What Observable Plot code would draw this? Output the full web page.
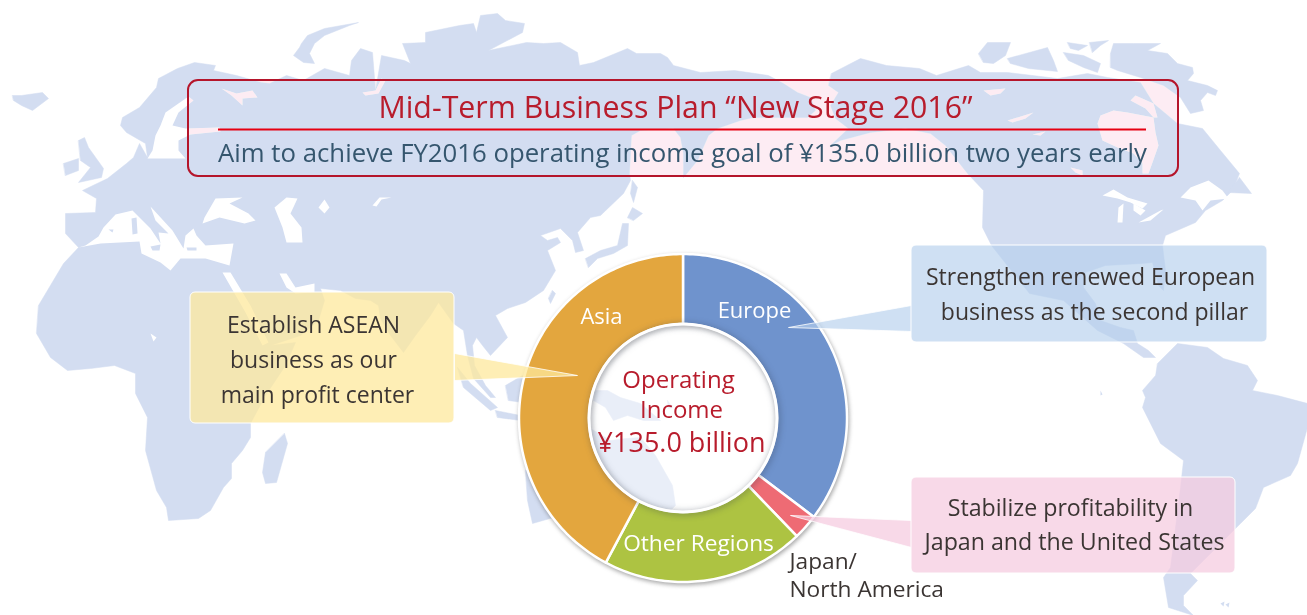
<!DOCTYPE html>
<html>
<head>
<meta charset="utf-8">
<script src="https://cdn.jsdelivr.net/npm/d3@7"></script>
<script src="https://cdn.jsdelivr.net/npm/@observablehq/plot@0.6"></script>
<style>
html,body{margin:0;padding:0;background:#fff;}
</style>
</head>
<body>
<div id="chart"></div>
<script>
// ---- chart values ----
const regions = ["Europe", "Japan/North America", "Other Regions", "Asia"];
const shares = [35.3, 2.5, 20.0, 42.2];
const regionColors = ["#6f93cd", "#ee6b74", "#adc342", "#e3a63e"];

// ---- wording ----
const titleText = "Mid-Term Business Plan “New Stage 2016”";
const subtitleText = "Aim to achieve FY2016 operating income goal of ¥135.0 billion two years early";
const ringLabels = ["Europe", "Asia"];
const ringLabelLong = ["Other Regions"];
const centerLines = ["Operating", "Income", "¥135.0 billion"];
const asiaNote = ["Establish ASEAN", "business as our", "main profit center"];
const europeNote = ["Strengthen renewed European", "business as the second pillar"];
const japanNote = ["Stabilize profitability in", "Japan and the United States"];
const japanLabel = ["Japan/", "North America"];

// ---- traced background map ----
const land = [
 [[38,305],[63,263],[78,247],[65,233],[65,213],[95,212],[96,198],[82,190],[107,178],[126,163],[133,157],[139,143],[147,157],[145,143],[126,132],[120,125],[122,117],[139,107],[156,87],[158,78],[177,68],[194,62],[215,65],[213,70],[236,75],[261,82],[269,83],[286,75],[303,80],[324,68],[349,75],[351,60],[360,48],[372,52],[375,90],[381,55],[404,60],[410,63],[402,43],[425,42],[425,32],[459,25],[473,23],[476,32],[480,15],[497,13],[505,20],[524,23],[522,32],[488,50],[526,42],[543,43],[560,42],[577,52],[579,65],[593,62],[627,48],[636,53],[660,53],[667,57],[673,65],[700,72],[734,70],[768,75],[783,83],[797,92],[810,97],[815,110],[807,117],[753,117],[740,120],[717,128],[708,135],[697,160],[683,177],[683,153],[680,137],[673,128],[640,130],[631,135],[629,173],[630,180],[623,193],[600,215],[590,217],[577,232],[583,250],[575,252],[572,240],[560,228],[540,235],[547,240],[557,237],[560,242],[547,250],[555,270],[543,290],[525,302],[507,308],[495,315],[507,337],[490,355],[482,345],[476,337],[472,345],[474,365],[485,385],[495,397],[490,397],[473,378],[467,355],[463,330],[453,323],[438,302],[430,315],[415,335],[403,352],[390,335],[380,318],[378,305],[370,300],[355,298],[340,290],[320,288],[324,300],[318,320],[300,335],[270,345],[295,342],[285,365],[265,395],[250,423],[250,437],[242,450],[231,463],[231,478],[223,487],[210,510],[198,518],[168,520],[166,507],[156,490],[145,450],[147,417],[135,393],[135,373],[114,365],[90,368],[67,370],[50,357],[36,333]],
 [[301,43],[307,35],[324,28],[358,22],[349,25],[324,35],[314,43],[309,53],[314,63],[303,62],[293,55],[299,47]],
 [[12,95],[21,95],[42,92],[48,98],[32,110],[21,105],[13,100]],
 [[78,140],[84,137],[88,147],[103,168],[101,177],[78,182],[90,167],[80,160]],
 [[63,163],[78,158],[78,170],[65,175]],
 [[284,433],[287,443],[276,482],[265,483],[262,472],[265,452]],
 [[585,258],[600,250],[617,245],[622,223],[628,223],[627,245],[613,253],[597,258],[588,267]],
 [[627,217],[632,207],[642,213],[633,220]],
 [[632,180],[637,187],[633,202],[630,193]],
 [[552,290],[555,293],[550,303],[548,298]],
 [[457,367],[470,383],[497,407],[490,410],[463,387]],
 [[495,410],[520,415],[520,420],[497,417]],
 [[505,385],[522,375],[530,385],[522,402],[508,400]],
 [[525,470],[545,445],[590,428],[610,440],[625,438],[640,437],[655,455],[672,485],[675,505],[655,525],[600,525],[560,515],[532,523],[527,500]],
 [[593,390],[607,390],[620,397],[640,403],[660,420],[643,420],[627,415],[613,420],[605,407],[593,400]],
 [[667,400],[672,407],[668,408]],
 [[831,73],[860,58],[886,65],[919,68],[936,75],[968,65],[980,72],[1007,72],[1057,78],[1087,73],[1107,77],[1140,82],[1153,103],[1177,123],[1202,128],[1220,150],[1239,173],[1232,190],[1222,200],[1205,210],[1195,222],[1165,235],[1162,245],[1165,270],[1163,290],[1158,285],[1152,262],[1142,263],[1105,265],[1085,272],[1083,287],[1095,303],[1100,320],[1120,327],[1133,330],[1137,343],[1148,350],[1155,357],[1143,357],[1123,343],[1097,330],[1063,300],[1029,293],[991,245],[982,227],[983,190],[967,173],[945,145],[930,133],[905,128],[870,132],[840,140],[830,145],[848,128],[835,118],[830,105],[838,92],[828,85]],
 [[978,53],[987,42],[1010,42],[1005,55],[993,63],[983,62]],
 [[1007,58],[1047,47],[1053,60],[1057,71],[1028,68],[1010,63]],
 [[1067,42],[1087,45],[1078,50],[1070,48]],
 [[1089,42],[1108,40],[1100,45],[1092,52]],
 [[1063,52],[1083,55],[1100,63],[1097,72],[1083,67],[1068,60]],
 [[1110,53],[1113,43],[1133,43],[1160,43],[1147,50],[1167,53],[1177,63],[1192,67],[1193,73],[1187,80],[1207,85],[1217,90],[1215,95],[1207,92],[1200,100],[1203,110],[1190,113],[1180,97],[1163,85],[1140,77],[1117,70],[1110,67]],
 [[1239,177],[1251,193],[1227,192]],
 [[1157,363],[1170,350],[1177,343],[1207,347],[1223,358],[1247,365],[1257,380],[1252,390],[1277,395],[1307,403],[1307,427],[1297,463],[1290,475],[1263,487],[1255,508],[1240,523],[1203,560],[1190,573],[1197,580],[1183,595],[1183,605],[1193,615],[1168,607],[1163,577],[1170,567],[1180,487],[1183,460],[1160,443],[1142,407],[1145,397],[1142,390],[1155,375]]
];
const seas = [
 [[78,247],[100,243],[139,241],[141,253],[160,262],[170,270],[180,258],[205,258],[229,265],[233,243],[205,245],[196,235],[193,228],[185,235],[183,248],[172,230],[150,206],[155,220],[168,233],[158,232],[160,243],[150,228],[132,210],[115,214],[103,227],[98,236],[85,245]],
 [[204,217],[215,198],[242,197],[229,203],[248,213],[255,220],[244,223],[219,217],[202,223]],
 [[274,207],[286,197],[297,198],[290,213],[301,227],[302,242],[286,242],[282,227]],
 [[318,207],[324,199],[329,207],[324,213]],
 [[372,205],[379,197],[391,197],[381,199],[376,206]],
 [[222,272],[230,272],[250,305],[268,342],[262,345],[245,312]],
 [[279,273],[286,273],[295,287],[314,283],[314,292],[295,293],[286,287]],
 [[188,96],[193,100],[178,112],[172,125],[185,128],[219,127],[220,131],[190,134],[178,140],[178,150],[185,158],[160,158],[147,158],[152,150],[155,135],[160,125],[165,112]],
 [[221,88],[236,93],[252,90],[257,97],[242,98],[242,105],[231,95]],
 [[362,92],[375,90],[381,78],[385,80],[378,93],[365,95]],
 [[1100,115],[1113,110],[1127,112],[1153,117],[1155,132],[1158,145],[1152,162],[1148,173],[1142,173],[1142,163],[1133,153],[1117,147],[1102,140],[1097,123]],
 [[1153,103],[1157,117],[1153,117],[1145,108],[1130,100],[1135,95]],
 [[983,90],[1005,88],[1000,93],[990,95]],
 [[1007,120],[1033,112],[1025,118],[1012,122]],
 [[1032,134],[1045,131],[1040,135]],
 [[1070,167],[1082,170],[1082,175],[1075,172]],
 [[1102,195],[1113,189],[1127,197],[1147,203],[1142,208],[1130,202],[1117,198]],
 [[1118,207],[1123,203],[1122,222],[1117,222]],
 [[1133,203],[1145,210],[1140,215],[1133,210]],
 [[1138,222],[1160,210],[1163,209],[1150,220]],
 [[1180,197],[1190,187],[1208,180],[1222,190],[1228,198],[1210,200],[1202,210],[1195,200]],
 [[150,333],[156,337],[153,341]]
];
const islands = [
 [[131,218],[136,217],[137,233],[132,234]],
 [[108,229],[113,229],[112,232]],
 [[186,247],[196,247],[196,250],[187,250]],
 [[150,246],[160,244],[159,250],[152,250]],
 [[1220,603],[1224,601],[1223,606]],
 [[1225,604],[1229,602],[1228,607]],
 [[1100,390],[1102,394],[1100,395]]
];

// ---- layout ----
const W = 1307, H = 615;
const cx = 682.5, cy = 417.5, rOuter = 164, rInner = 94;
const mapColor = "#d3ddf1";
const inkDark = "#3b3533", red = "#b81c2c";
const font = "'Open Sans','Noto Sans',sans-serif";

const toRows = (shapes) => shapes.flatMap((s, i) => s.map(([x, y]) => ({shape: i, x, y})));

let acc = 0;
const sliceRows = regions.flatMap((name, i) => {
  const a0 = acc / 100 * 2 * Math.PI;
  acc += shares[i];
  const a1 = acc / 100 * 2 * Math.PI;
  const n = Math.max(2, Math.ceil((a1 - a0) / 0.02));
  const t = d3.range(n + 1).map(k => a0 + (a1 - a0) * k / n);
  const pts = [...t.map(a => [rOuter, a]), ...t.slice().reverse().map(a => [rInner, a])];
  return pts.map(([r, a]) => ({name, x: cx + r * Math.sin(a), y: cy - r * Math.cos(a)}));
});

const shadow = (css) => (index, scales, values, dimensions, context, next) => {
  const g = next(index, scales, values, dimensions, context);
  g.style.filter = css;
  return g;
};
const rectOf = (x1, y1, x2, y2) => ({x1, y1, x2, y2});
const lineRows = (lines, xs, ys) => lines.map((t, i) => ({t, x: xs[i], y: ys[i]}));
const textMark = (rows, o) => Plot.text(rows, {text: "t", x: "x", y: "y", fontFamily: font, ...o});
const pointer = (pts, fill, fo) => Plot.line(pts.map(([x, y]) => ({x, y})), {x: "x", y: "y", curve: "linear-closed", fill, fillOpacity: fo, stroke: "#fff", strokeWidth: 0.8});
const box = (r, fill, fo, rx) => Plot.rect([r], {x1: "x1", x2: "x2", y1: "y1", y2: "y2", fill, fillOpacity: fo, stroke: "#fff", strokeWidth: 1, rx});

const chart = Plot.plot({
  width: W, height: H, margin: 0,
  style: {background: "#fff", fontFamily: font},
  x: {domain: [0, W], range: [0, W], axis: null},
  y: {domain: [0, H], range: [0, H], axis: null},
  color: {domain: regions, range: regionColors},
  marks: [
    Plot.line(toRows(land), {x: "x", y: "y", z: "shape", curve: "linear-closed", fill: mapColor, stroke: mapColor, strokeWidth: 0.5}),
    Plot.line(toRows(seas), {x: "x", y: "y", z: "shape", curve: "linear-closed", fill: "#fff", stroke: "none"}),
    Plot.line(toRows(islands), {x: "x", y: "y", z: "shape", curve: "linear-closed", fill: mapColor, stroke: "none"}),

    // header panel
    Plot.rect([rectOf(188, 80, 1178, 176)], {x1: "x1", x2: "x2", y1: "y1", y2: "y2", fill: "#fdecf3", mixBlendMode: "darken", rx: 10}),
    Plot.rect([rectOf(188, 80, 1178, 176)], {x1: "x1", x2: "x2", y1: "y1", y2: "y2", fill: "none", stroke: "#b5152b", strokeWidth: 2, rx: 10}),
    Plot.ruleY([129], {x1: 218, x2: 1146, stroke: "#e60012", strokeWidth: 2}),
    textMark(lineRows([titleText], [675], [108]), {fontSize: 30.3, fill: red}),
    textMark(lineRows([subtitleText], [682], [153]), {fontSize: 25.75, fill: "#35566e"}),

    // doughnut
    Plot.line(sliceRows, {x: "x", y: "y", z: "name", curve: "linear-closed", fill: "name", stroke: "#fff", strokeWidth: 2.5, strokeLinejoin: "round",
      render: shadow("drop-shadow(1px 2px 2px rgba(60,60,60,.45))")}),
    Plot.dot([{x: cx, y: cy}], {x: "x", y: "y", r: rInner, fill: "#fff", fillOpacity: 0.5, stroke: "none"}),
    Plot.dot([{x: cx, y: cy}], {x: "x", y: "y", r: rInner, fill: "none", stroke: "#fff", strokeWidth: 3,
      render: shadow("drop-shadow(1px 1px 3px rgba(40,50,70,.5))")}),

    // call-outs
    pointer([[454, 353], [577, 375], [454, 380]], "rgb(254,232,156)", 0.75),
    box(rectOf(190, 292, 454, 423), "rgb(254,232,156)", 0.75, 5),
    pointer([[911, 305], [788, 327], [911, 331]], "rgb(181,208,237)", 0.65),
    box(rectOf(911, 245, 1267, 342), "rgb(181,208,237)", 0.65, 5),
    pointer([[911, 520], [790, 515], [911, 547]], "rgb(245,203,223)", 0.73),
    box(rectOf(911, 477, 1235, 573), "rgb(245,203,223)", 0.73, 5),

    textMark(lineRows(ringLabels, [754, 601], [310, 316]), {fontSize: 22, fill: "#fff"}),
    textMark(lineRows(ringLabelLong, [698], [543]), {fontSize: 22.7, fill: "#fff"}),
    textMark(lineRows(centerLines.slice(0, 2), [678, 681], [380, 410]), {fontSize: 24, fill: red}),
    textMark(lineRows(centerLines.slice(2), [681], [443]), {fontSize: 27, fill: red}),
    textMark(lineRows(asiaNote, [313, 313, 317], [325, 360, 395]), {fontSize: 23, fill: inkDark}),
    textMark(lineRows(europeNote, [1090, 1094], [277, 312]), {fontSize: 23, fill: inkDark}),
    textMark(lineRows(japanNote, [1070, 1074], [508, 542]), {fontSize: 23.2, fill: inkDark}),
    textMark(lineRows(japanLabel, [789, 789], [561, 589]), {fontSize: 22.7, fill: inkDark, textAnchor: "start"})
  ]
});
document.getElementById("chart").appendChild(chart);
</script>
</body>
</html>
